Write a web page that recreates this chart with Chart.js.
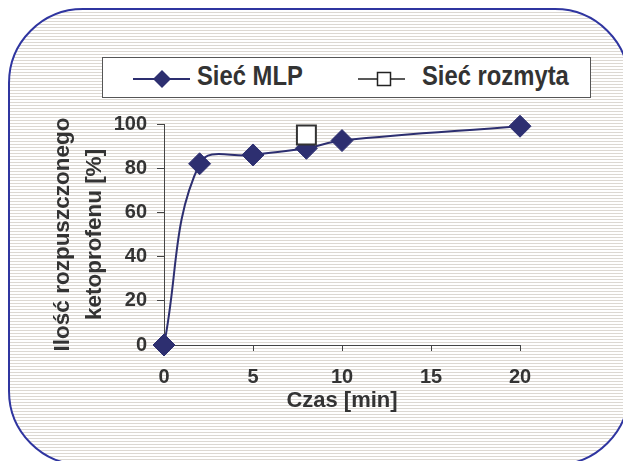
<!DOCTYPE html>
<html>
<head>
<meta charset="utf-8">
<script src="https://cdn.jsdelivr.net/npm/chart.js@4/dist/chart.umd.min.js"></script>
<style>
  html, body { margin: 0; padding: 0; background: #fff; width: 623px; height: 461px; overflow: hidden; }
  .frame {
    position: absolute; left: 8px; top: 8px; width: 622px; height: 458px; box-sizing: border-box;
    border: 2.5px solid #2f35a0; border-radius: 75px;
    background: repeating-linear-gradient(to bottom, #fff 0 2px, #dcd8d2 2px 3px);
  }
  #chart { position: absolute; left: 0; top: 0; }
  .legend {
    position: absolute; left: 102px; top: 57px; width: 489px; height: 41px; box-sizing: border-box;
    border: 1.5px solid #555; background: #fff;
  }
  .legend svg { position: absolute; top: 10.5px; }
  .legend span {
    position: absolute; top: 3.5px; font: bold 28px 'Liberation Sans', Arial, sans-serif; color: #333;
    line-height: 1; white-space: nowrap; transform: scaleX(0.85); transform-origin: 0 0;
  }
</style>
</head>
<body>
<div class="frame"></div>
<canvas id="chart" width="623" height="461"></canvas>
<div class="legend">
  <svg style="left:29.5px" width="57" height="20"><line x1="0" y1="10" x2="57" y2="10" stroke="#2d2f70" stroke-width="2"/><polygon points="29,1 38,10 29,19 20,10" fill="#2d2f70"/></svg>
  <span style="left:93.5px">Sieć MLP</span>
  <svg style="left:254.5px" width="47" height="20"><line x1="0" y1="10" x2="47" y2="10" stroke="#222" stroke-width="1.5"/><rect x="19.5" y="3.5" width="13" height="13" fill="#fff" stroke="#222" stroke-width="1.5"/></svg>
  <span style="left:318.5px">Sieć rozmyta</span>
</div>
<script>
// dane
const czas = [0, 2, 5, 8, 10, 20]
const siecMLP = [0, 82, 86, 89, 92.5, 99]
const czasRozmyta = [8]
const siecRozmyta = [95]
const xTicks = [0, 5, 10, 15, 20]
const yTicks = [0, 20, 40, 60, 80, 100]

const NAVY = '#2d2f70'
const TEXT = '#333'
const AXIS = '#444'
const FAMILY = "'Liberation Sans', Arial, sans-serif"
const tickFont = { family: FAMILY, size: 20, weight: 'bold' }

new Chart(document.getElementById('chart'), {
  type: 'line',
  data: {
    datasets: [
      {
        label: 'Sieć rozmyta',
        data: czasRozmyta.map((x, i) => ({ x, y: siecRozmyta[i] })),
        showLine: false,
        pointStyle: 'rect',
        pointRadius: 13.4,
        pointBackgroundColor: '#fff',
        pointBorderColor: '#333',
        pointBorderWidth: 2,
        clip: false,
        order: 0,
      },
      {
        label: 'Sieć MLP',
        data: czas.map((x, i) => ({ x, y: siecMLP[i] })),
        borderColor: NAVY,
        borderWidth: 2,
        tension: 0.4,
        pointStyle: 'rectRot',
        pointRadius: 11,
        pointBackgroundColor: NAVY,
        pointBorderColor: NAVY,
        pointBorderWidth: 1,
        clip: false,
        order: 1,
      },
    ],
  },
  options: {
    responsive: false,
    animation: false,
    devicePixelRatio: 1,
    layout: { padding: { left: 46, top: 124, right: 103, bottom: 47 } },
    plugins: { legend: { display: false }, tooltip: { enabled: false } },
    events: [],
    scales: {
      x: {
        type: 'linear',
        min: 0,
        max: 20,
        afterBuildTicks: (s) => { s.ticks = xTicks.map((v) => ({ value: v })) },
        afterFit: (s) => { s.height = 69 },
        border: { color: AXIS, width: 1 },
        grid: { drawOnChartArea: false, tickLength: 6, color: AXIS },
        ticks: { padding: 14, font: tickFont, color: TEXT },
        title: {
          display: true,
          text: 'Czas [min]',
          color: TEXT,
          padding: 0,
          font: { family: FAMILY, size: 22, weight: 'bold', lineHeight: 1.2 },
        },
      },
      y: {
        min: 0,
        max: 100,
        afterBuildTicks: (s) => { s.ticks = yTicks.map((v) => ({ value: v })) },
        afterFit: (s) => { s.width = 118 },
        border: { color: AXIS, width: 1 },
        grid: { drawOnChartArea: false, tickLength: 7, color: AXIS },
        ticks: { padding: 10, font: tickFont, color: TEXT },
        title: {
          display: true,
          text: ['Ilość rozpuszczonego', 'ketoprofenu [%]'],
          color: TEXT,
          padding: 0,
          font: { family: FAMILY, size: 22.5, weight: 'bold', lineHeight: 1.45 },
        },
      },
    },
  },
})
</script>
</body>
</html>
